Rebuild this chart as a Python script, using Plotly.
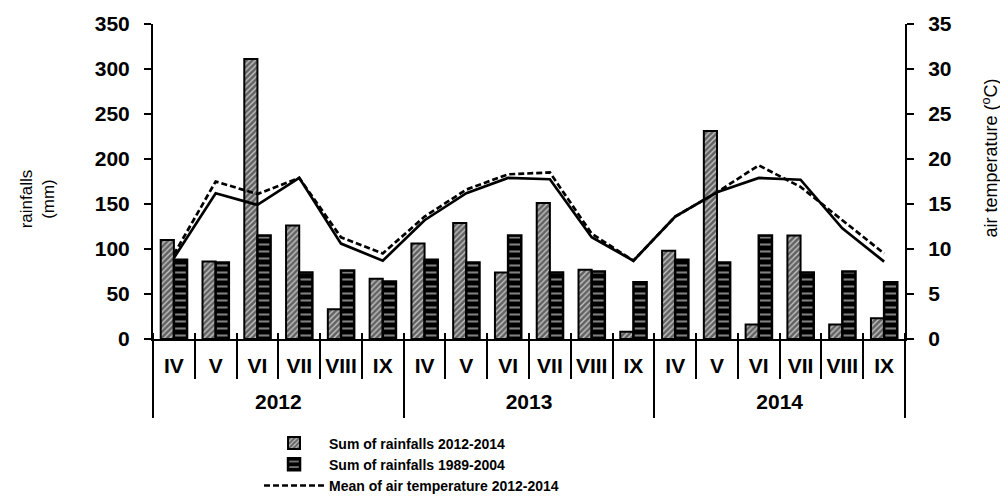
import plotly.graph_objects as go

years = ["2012", "2012", "2012", "2012", "2012", "2012",
         "2013", "2013", "2013", "2013", "2013", "2013",
         "2014", "2014", "2014", "2014", "2014", "2014"]
months = ["IV", "V", "VI", "VII", "VIII", "IX",
          "IV", "V", "VI", "VII", "VIII", "IX",
          "IV", "V", "VI", "VII", "VIII", "IX"]

rain_2012_2014 = [110, 86, 311, 126, 33, 67,
                  106, 129, 74, 151, 77, 8,
                  98, 231, 16, 115, 16, 23]
rain_1989_2004 = [88, 85, 115, 74, 76, 64,
                  88, 85, 115, 74, 75, 63,
                  88, 85, 115, 74, 75, 63]
temp_mean_2012_2014 = [9.4, 17.5, 16.1, 17.9, 11.3, 9.5,
                       13.6, 16.6, 18.3, 18.5, 11.7, 8.7,
                       13.6, 16.3, 19.3, 16.9, 13.2, 9.5]
temp_mean_longterm = [9.0, 16.2, 14.9, 17.9, 10.6, 8.7,
                      13.2, 16.2, 17.9, 17.75, 11.3, 8.7,
                      13.6, 16.3, 17.9, 17.7, 12.3, 8.6]

FONT = "Liberation Sans, Arial, sans-serif"
x_cat = [years, months]

# derived label / boundary positions along the category axis
n = len(months)
month_pos = list(range(n))
month_bounds = [i - 0.5 for i in range(n + 1)]
year_names = []
for y in years:
    if y not in year_names:
        year_names.append(y)
year_first = [years.index(y) for y in year_names]
year_last = [n - 1 - years[::-1].index(y) for y in year_names]
year_centers = [(a + b) / 2 for a, b in zip(year_first, year_last)]
year_bounds = [year_first[0] - 0.5] + [b + 0.5 for b in year_last]

fig = go.Figure()
fig.add_trace(go.Bar(
    x=x_cat, y=rain_2012_2014, name="Sum of rainfalls 2012-2014",
    marker=dict(color="#c4c4c4", line=dict(color="black", width=2),
                pattern=dict(shape="/", fgcolor="black", bgcolor="#c4c4c4",
                             size=4, solidity=0.65)),
))
fig.add_trace(go.Bar(
    x=x_cat, y=rain_1989_2004, name="Sum of rainfalls 1989-2004",
    marker=dict(color="black", line=dict(color="black", width=2.5),
                pattern=dict(shape="-", fgcolor="white", bgcolor="black",
                             size=7, solidity=0.3)),
))
fig.add_trace(go.Scatter(
    x=x_cat, y=temp_mean_2012_2014, name="Mean of air temperature 2012-2014",
    yaxis="y2", mode="lines",
    line=dict(color="black", width=2.7, dash="6px,3px"),
))
fig.add_trace(go.Scatter(
    x=x_cat, y=temp_mean_longterm, name="Mean of air temperature 1989-2004",
    yaxis="y2", mode="lines", showlegend=False,
    line=dict(color="black", width=2.7),
))

# invisible helper traces so that the tick / label / divider axes exist
for ax_id in ["x2", "x3", "x4", "x5"]:
    fig.add_trace(go.Scatter(
        x=month_pos, y=rain_1989_2004, xaxis=ax_id, yaxis="y", mode="markers",
        marker=dict(opacity=0, size=1), showlegend=False, hoverinfo="skip",
    ))

tickfont = dict(family=FONT, size=21, color="black", weight="bold")
rng = [-0.5, n - 0.5]
noaxis = dict(showline=False, showgrid=False, zeroline=False, automargin=False)

# page body adds an 8px offset; compensate so the plot lands where the reference has it
fig.update_layout(
    width=1000, height=489,
    margin=dict(l=145, r=103, t=16, b=158, autoexpand=False),
    paper_bgcolor="white", plot_bgcolor="white",
    barmode="group", bargap=0.37, bargroupgap=0.0,
    showlegend=True,
    legend=dict(x=0.141, y=-0.281, xanchor="left", yanchor="top",
                font=dict(family=FONT, size=14, color="black", weight="bold"),
                itemwidth=60, bgcolor="rgba(0,0,0,0)", traceorder="normal"),
    xaxis=dict(type="multicategory", showline=True, linecolor="black", linewidth=2,
               ticks="", showticklabels=False, showdividers=False,
               showgrid=False, zeroline=False, automargin=False),
    # month boundary ticks, crossing the axis line
    xaxis2=dict(overlaying="x", anchor="free", position=0.022, range=rng,
                tickmode="array", tickvals=month_bounds, ticks="outside", ticklen=46,
                tickwidth=2, tickcolor="black", showticklabels=False, **noaxis),
    # month labels
    xaxis3=dict(overlaying="x", anchor="y", range=rng,
                tickmode="array", tickvals=month_pos, ticktext=months, ticks="",
                tickfont=tickfont, ticklabelstandoff=12, **noaxis),
    # year dividers
    xaxis4=dict(overlaying="x", anchor="y", range=rng,
                tickmode="array", tickvals=year_bounds, ticks="outside", ticklen=78,
                tickwidth=2, tickcolor="black", showticklabels=False, **noaxis),
    # year labels
    xaxis5=dict(overlaying="x", anchor="y", range=rng,
                tickmode="array", tickvals=year_centers, ticktext=year_names, ticks="",
                tickfont=tickfont, ticklabelstandoff=48, **noaxis),
    yaxis=dict(range=[0, 350], dtick=50, showline=True, linecolor="black", linewidth=2,
               ticks="outside", ticklen=7, tickwidth=2, tickcolor="black",
               tickfont=tickfont, ticklabelstandoff=10, showgrid=False, zeroline=False,
               automargin=False),
    yaxis3=dict(overlaying="y", anchor="x", side="left", range=[0, 350], dtick=50,
                ticks="inside", ticklen=8, tickwidth=2, tickcolor="black",
                showticklabels=False, **noaxis),
    yaxis2=dict(overlaying="y", side="right", range=[0, 35], dtick=5, showline=True,
                linecolor="black", linewidth=2, ticks="outside", ticklen=7, tickwidth=2,
                tickcolor="black", tickfont=tickfont, ticklabelstandoff=10,
                showgrid=False, zeroline=False, automargin=False),
    yaxis4=dict(overlaying="y", anchor="x", side="right", range=[0, 35], dtick=5,
                ticks="inside", ticklen=8, tickwidth=2, tickcolor="black",
                showticklabels=False, **noaxis),
    annotations=[
        dict(text="rainfalls<br>(mm)", textangle=-90, xref="paper", yref="paper",
             x=-0.154, y=0.444, xanchor="center", yanchor="middle", showarrow=False,
             font=dict(family=FONT, size=17, color="black")),
        dict(text="air temperature (<sup>o</sup>C)", textangle=-90, xref="paper", yref="paper",
             x=1.114, y=0.575, xanchor="center", yanchor="middle", showarrow=False,
             font=dict(family=FONT, size=18, color="black")),
    ],
)

fig.write_html("out.html")
